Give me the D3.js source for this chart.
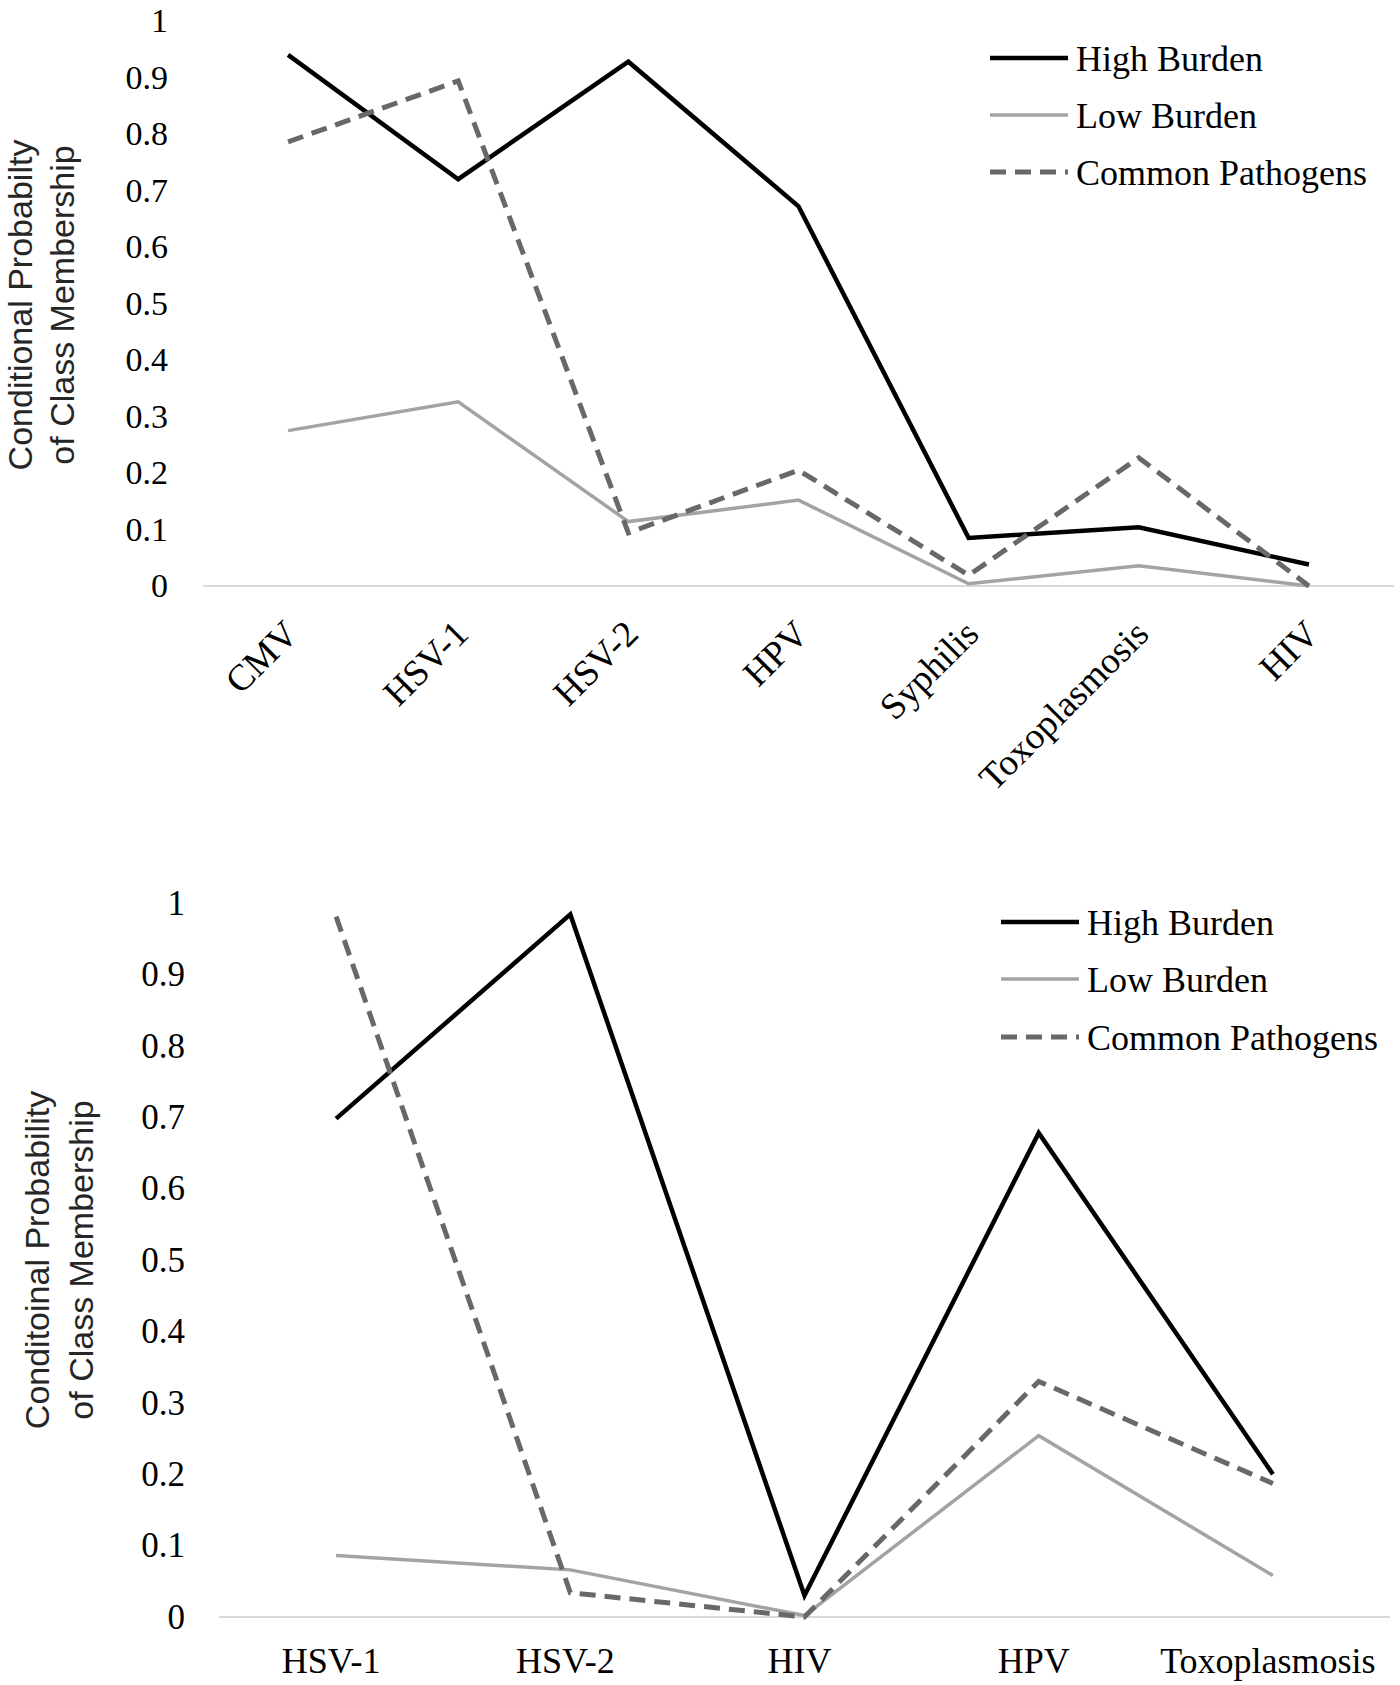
<!DOCTYPE html>
<html>
<head>
<meta charset="utf-8">
<script src="https://cdn.jsdelivr.net/npm/d3@7"></script>
<style>
  body { margin: 0; background: #fff; }
  svg { display: block; }
</style>
</head>
<body>
<svg id="chart" width="1400" height="1685"></svg>
<script>
// series names (legend)
const seriesNames = ["High Burden", "Low Burden", "Common Pathogens"]

// y axis ticks, shared by both panels
const yTicks = [0, 0.1, 0.2, 0.3, 0.4, 0.5, 0.6, 0.7, 0.8, 0.9, 1]

// top panel
const topCategories = ["CMV", "HSV-1", "HSV-2", "HPV", "Syphilis", "Toxoplasmosis", "HIV"]
const topHigh   = [0.940, 0.720, 0.928, 0.672, 0.085, 0.104, 0.038]
const topLow    = [0.275, 0.326, 0.114, 0.152, 0.004, 0.036, 0.000]
const topCommon = [0.786, 0.894, 0.094, 0.205, 0.019, 0.227, 0.000]
const topTitle  = ["Conditional Probabilty", "of Class Membership"]

// bottom panel
const bottomCategories = ["HSV-1", "HSV-2", "HIV", "HPV", "Toxoplasmosis"]
const bottomHigh   = [0.698, 0.984, 0.030, 0.678, 0.200]
const bottomLow    = [0.086, 0.066, 0.002, 0.254, 0.058]
const bottomCommon = [0.981, 0.034, 0.000, 0.330, 0.187]
const bottomTitle  = ["Conditoinal Probability", "of Class Membership"]

const serif = "'Liberation Serif', 'Times New Roman', serif"
const sans = "'Liberation Sans', Arial, sans-serif"

const lineStyles = [
  {color: "#000000", width: 4.5, dash: null},
  {color: "#a3a3a3", width: 3.5, dash: null},
  {color: "#686868", width: 5, dash: "16,9"}
]

const svg = d3.select("#chart")

const drawPanel = (p) => {
  const x = d3.scalePoint()
    .domain(p.categories)
    .range([p.left, p.right])
    .padding(0.5)

  const y = d3.scaleLinear()
    .domain([0, 1])
    .range([p.bottom, p.top])

  const g = svg.append("g")

  // baseline
  g.append("line")
    .attr("x1", p.left).attr("x2", p.right)
    .attr("y1", y(0)).attr("y2", y(0))
    .attr("stroke", "#d9d9d9")
    .attr("stroke-width", 2)

  // y axis labels
  g.append("g")
    .attr("transform", `translate(${p.left},0)`)
    .call(d3.axisLeft(y).tickValues(yTicks).tickSize(0).tickPadding(p.tickPad).tickFormat(d3.format("~g")))
    .call(a => a.select(".domain").remove())
    .selectAll("text")
    .attr("font-family", serif)
    .attr("font-size", p.tickSize)
    .attr("fill", "#000")

  // x labels
  const xl = g.append("g")
  if (p.rotate) {
    xl.selectAll("text")
      .data(p.categories)
      .join("text")
      .attr("transform", d => `translate(${x(d) + 12},${p.xLabelY}) rotate(-45)`)
      .attr("text-anchor", "end")
      .attr("font-family", serif)
      .attr("font-size", p.xSize)
      .text(d => d)
  } else {
    xl.selectAll("text")
      .data(p.categories)
      .join("text")
      .attr("x", d => x(d) - 5)
      .attr("y", p.xLabelY)
      .attr("text-anchor", "middle")
      .attr("font-family", serif)
      .attr("font-size", p.xSize)
      .text(d => d)
  }

  // y title
  const t = g.append("text")
    .attr("transform", `translate(0,${p.titleY}) rotate(-90)`)
    .attr("text-anchor", "middle")
    .attr("font-family", sans)
    .attr("font-size", 34)
    .attr("fill", "#262626")
  p.title.forEach((s, i) => {
    t.append("tspan")
      .attr("x", 0)
      .attr("y", p.titleX[i])
      .attr("dy", "0.35em")
      .text(s)
  })

  // lines
  const line = d3.line()
    .x((d, i) => x(p.categories[i]))
    .y(d => y(d))

  p.series.forEach((vals, k) => {
    const s = lineStyles[k]
    g.append("path")
      .datum(vals)
      .attr("d", line)
      .attr("fill", "none")
      .attr("stroke", s.color)
      .attr("stroke-width", s.width)
      .attr("stroke-dasharray", s.dash)
      .attr("stroke-linejoin", "miter")
  })

  // legend
  const lg = g.append("g")
  seriesNames.forEach((name, k) => {
    const s = lineStyles[k]
    const ly = p.legendY[k]
    lg.append("line")
      .attr("x1", p.legendX).attr("x2", p.legendX + 78)
      .attr("y1", ly).attr("y2", ly)
      .attr("stroke", s.color)
      .attr("stroke-width", s.width)
      .attr("stroke-dasharray", s.dash)
    lg.append("text")
      .attr("x", p.legendX + 86)
      .attr("y", ly)
      .attr("dy", "0.35em")
      .attr("font-family", serif)
      .attr("font-size", 36)
      .text(name)
  })
}

drawPanel({
  categories: topCategories,
  series: [topHigh, topLow, topCommon],
  title: topTitle,
  left: 203, right: 1394, top: 21, bottom: 586,
  tickPad: 35, tickSize: 34,
  rotate: true, xLabelY: 636, xSize: 37,
  titleY: 305, titleX: [20, 62],
  legendX: 990, legendY: [58, 115, 172]
})

drawPanel({
  categories: bottomCategories,
  series: [bottomHigh, bottomLow, bottomCommon],
  title: bottomTitle,
  left: 219, right: 1390, top: 903, bottom: 1617,
  tickPad: 34, tickSize: 35,
  rotate: false, xLabelY: 1673, xSize: 36,
  titleY: 1260, titleX: [37, 81],
  legendX: 1001, legendY: [922, 979, 1037]
})
</script>
</body>
</html>
